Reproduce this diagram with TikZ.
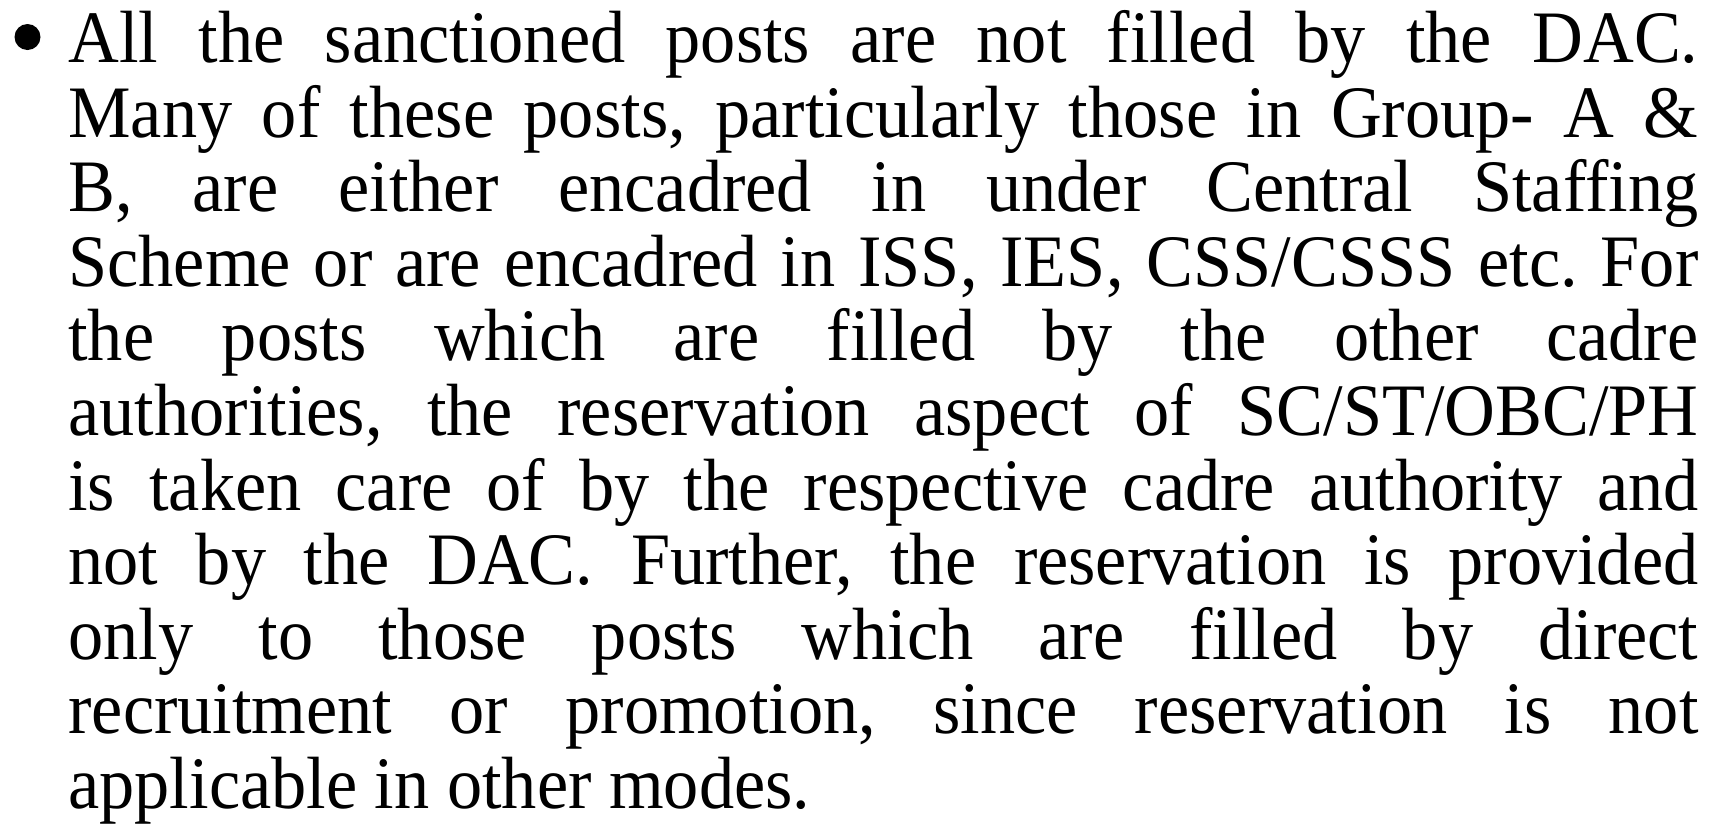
\documentclass[tikz,border=0pt]{standalone}
\usepackage{fontspec}
\setmainfont{Liberation Serif}[FakeStretch=0.95]
\tikzset{
  textblock/.style={anchor=north west, inner sep=0pt, text width=815pt,
    align=justify, font=\fontsize{37}{37.3}\selectfont},
  bulletdot/.style={circle, fill=black, inner sep=0pt, minimum size=13pt}
}
\begin{document}
\begin{tikzpicture}[x=1pt,y=1pt]
  \useasboundingbox (0,0) rectangle (860,-413);

  % bullet and its paragraph
  \node[bulletdot] (dot) at (13.75,-18.5) {};
  \node[textblock] (para) at (34,-5) {\tolerance=10000 \hyphenpenalty=10000 \frenchspacing
    All the sanctioned posts are not filled by the DAC.\linebreak
    Many of these posts, particularly those in Group- A \&\linebreak
    B, are either encadred in under Central Staffing\linebreak
    Scheme or are encadred in ISS, IES, CSS/CSSS etc. For\linebreak
    the posts which are filled by the other cadre\linebreak
    authorities, the reservation aspect of SC/ST/OBC/PH\linebreak
    is taken care of by the respective cadre authority and\linebreak
    not by the DAC. Further, the reservation is provided\linebreak
    only to those posts which are filled by direct\linebreak
    recruitment or promotion, since reservation is not\linebreak
    applicable in other modes.};
\end{tikzpicture}
\end{document}
